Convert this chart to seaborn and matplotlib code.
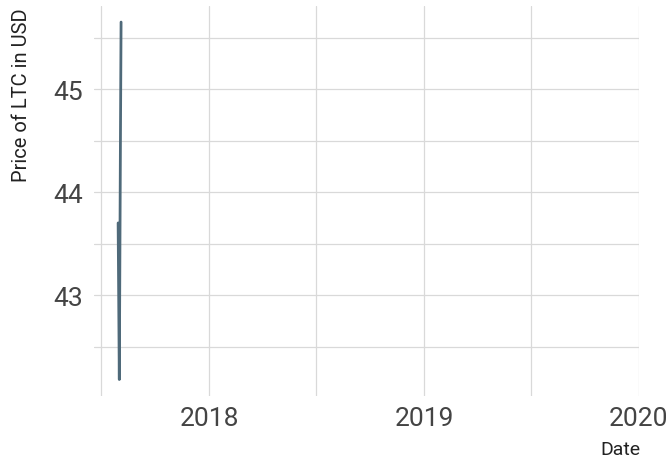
import pandas as pd
import numpy as np
import matplotlib
matplotlib.use("Agg")
import matplotlib.pyplot as plt
import matplotlib.dates as mdates
from matplotlib.ticker import MultipleLocator
import seaborn as sns

dates = ["2017-07-30", "2017-07-31", "2017-08-01",
         "2017-08-02", "2017-08-03", "2017-08-04"]
prices = [43.70, 42.95, 42.18, 43.40, 44.60, 45.65]

df = pd.DataFrame({"Date": pd.to_datetime(dates), "Price": prices})

sns.set_theme(style="white")
plt.rcParams['font.family'] = ['Roboto', 'DejaVu Sans']

fig = plt.figure(figsize=(6.7, 4.64), dpi=100)
ax = fig.add_axes([94/670, 1-397/464, (639-94)/670, (397-7)/464])

sns.lineplot(data=df, x="Date", y="Price", ax=ax, color="#4f6a7a", lw=2.0)

ax.set_xlim(pd.Timestamp("2017-06-19"), pd.Timestamp("2020-01-01"))
ax.set_ylim(42.02, 45.806)

ax.xaxis.set_major_locator(mdates.YearLocator())
ax.xaxis.set_major_formatter(mdates.DateFormatter("%Y"))
ax.xaxis.set_minor_locator(mdates.MonthLocator(bymonth=7))
ax.yaxis.set_major_locator(MultipleLocator(1))
ax.yaxis.set_minor_locator(MultipleLocator(0.5))

ax.grid(True, which="both", color="#d9d9d9", lw=0.9)
ax.set_axisbelow(True)
for s in ax.spines.values():
    s.set_visible(False)
ax.tick_params(which="both", length=0)
ax.tick_params(axis="y", pad=8, labelsize=19, labelcolor="#444444")
ax.tick_params(axis="x", pad=7, labelsize=19, labelcolor="#444444")

ax.set_xlabel("")
ax.set_ylabel("")
fig.text(22/670, 1-8/464, "Price of LTC in USD", rotation=90, ha="center", va="top",
         fontsize=14.5, color="#222222")
fig.text(640/670, 1-450/464, "Date", ha="right", va="center", fontsize=14, color="#222222")

fig.savefig("out.png", dpi=100)
